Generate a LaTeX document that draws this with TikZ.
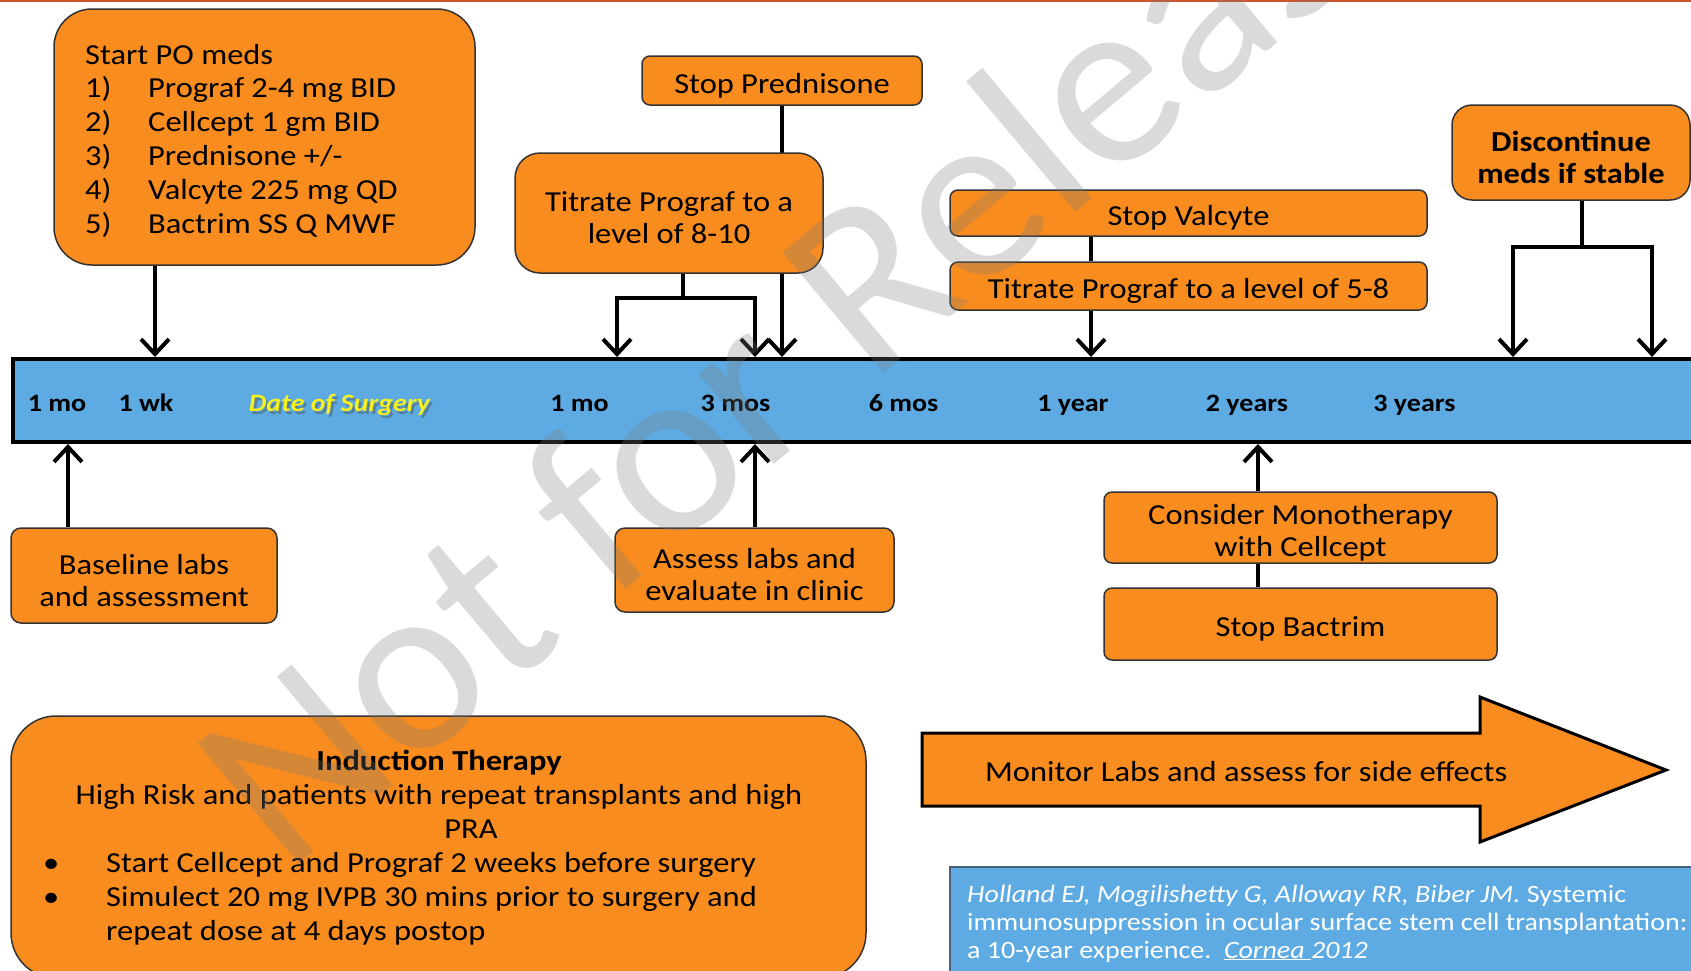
\documentclass[tikz,border=0pt]{standalone}
\usepackage{fontspec}
\setmainfont{Carlito}[FakeStretch=1.12]
\newfontfamily\wmfont{Carlito}
\usetikzlibrary{arrows.meta}
\definecolor{org}{RGB}{248,140,30}
\definecolor{barblue}{RGB}{93,171,226}
\definecolor{topline}{RGB}{205,85,45}
\definecolor{wmgray}{RGB}{124,124,124}
\definecolor{citeedge}{RGB}{75,95,125}
\definecolor{dosyellow}{RGB}{245,240,30}
\newcommand{\boxfont}{\fontsize{29}{34}\selectfont}
\newcommand{\bxfont}{\fontsize{29}{32}\selectfont}
\newcommand{\tlfont}{\fontsize{25}{30}\selectfont\bfseries}
\newcommand{\citefont}{\fontsize{25}{28}\selectfont}
\newcommand{\bst}{\rule{0pt}{30pt}}
\begin{document}
\begin{tikzpicture}[x=1pt,y=-1pt,
  box/.style={draw=black!80, line width=1.5pt, fill=org, align=center, inner sep=0pt, font=\bxfont},
  txt/.style={inner sep=0pt, font=\boxfont},
  tl/.style={inner sep=0pt, font=\tlfont, anchor=base},
  arr/.style={line width=4pt, -{Straight Barb[length=15pt,width=28pt]}},
  ln/.style={line width=4pt}]
\clip (0,0) rectangle (1691,970);
\fill[white] (0,0) rectangle (1691,970);
\draw[topline, line width=3pt] (0,0) -- (1691,0);

% x positions of connectors
\coordinate (xa) at (155,0);
\coordinate (x617) at (617,0);
\coordinate (x755) at (755,0);
\coordinate (x1091) at (1091,0);
\coordinate (x1513) at (1513,0);
\coordinate (x1652) at (1652,0);
\coordinate (x68) at (68,0);
\coordinate (x1258) at (1258,0);
\coordinate (j1) at (683,298);
\coordinate (j2) at (1582,247);

% timeline bar
\node[draw=black, line width=4pt, fill=barblue, minimum width=1720pt, minimum height=83pt, inner sep=0pt, anchor=west] (bar) at (11,400.5) {};
\node[tl] (t1) at (57,411) {1 mo};
\node[tl] (t2) at (146,411) {1 wk};
\node[tl, text=black!70, opacity=0.45] (dosshadow) at (342,414) {\itshape Date of Surgery};
\node[tl, text=dosyellow] (dos) at (339.5,411) {\itshape Date of Surgery};
\node[tl] (t3) at (579.5,411) {1 mo};
\node[tl] (t4) at (735.5,411) {3 mos};
\node[tl] (t5) at (903.5,411) {6 mos};
\node[tl] (t6) at (1073,411) {1 year};
\node[tl] (t7) at (1247,411) {2 years};
\node[tl] (t8) at (1414.5,411) {3 years};

% Start PO meds
\node[box, rounded corners=38pt, minimum width=421pt, minimum height=256pt] (startpo) at (264.5,137) {};
\node[txt, anchor=base west] (po0) at (85,64) {Start PO meds};
\node[txt, anchor=base west] (n1) at (85,97.8) {1)};
\node[txt, anchor=base west] (m1) at (148,97.8) {Prograf 2-4 mg BID};
\node[txt, anchor=base west] (n2) at (85,131.6) {2)};
\node[txt, anchor=base west] (m2) at (148,131.6) {Cellcept 1 gm BID};
\node[txt, anchor=base west] (n3) at (85,165.4) {3)};
\node[txt, anchor=base west] (m3) at (148,165.4) {Prednisone +/-};
\node[txt, anchor=base west] (n4) at (85,199.2) {4)};
\node[txt, anchor=base west] (m4) at (148,199.2) {Valcyte 225 mg QD};
\node[txt, anchor=base west] (n5) at (85,233) {5)};
\node[txt, anchor=base west] (m5) at (148,233) {Bactrim SS Q MWF};
\draw[arr] (startpo.south -| xa) -- (bar.north -| xa);

% Stop Prednisone and Titrate 8-10
\node[box, rounded corners=8pt, minimum width=280pt, minimum height=49pt] (stoppred) at (782,80.5) {\bst Stop Prednisone};
\draw[arr] (stoppred.south) -- (bar.north -| stoppred.south);
\node[box, rounded corners=25pt, minimum width=308pt, minimum height=120pt] (titr810) at (669,213) {\bst Titrate Prograf to a\\level of 8-10};
\draw[ln] (titr810.south -| j1) -- (j1);
\draw[arr] (j1) -| (bar.north -| x617);
\draw[arr] (j1) -| (bar.north -| x755);

% Stop Valcyte and Titrate 5-8
\node[box, rounded corners=8pt, minimum width=477pt, minimum height=46pt] (stopval) at (1188.5,213) {\bst Stop Valcyte};
\node[box, rounded corners=8pt, minimum width=477pt, minimum height=48pt] (titr58) at (1188.5,286) {\bst Titrate Prograf to a level of 5-8};
\draw[ln] (stopval.south -| x1091) -- (titr58.north -| x1091);
\draw[arr] (titr58.south -| x1091) -- (bar.north -| x1091);

% Discontinue
\node[box, rounded corners=20pt, minimum width=238pt, minimum height=95pt, font=\bxfont\bfseries] (discont) at (1571,152.5) {\bst Discontinue\\meds if stable};
\draw[ln] (discont.south -| j2) -- (j2);
\draw[arr] (j2) -| (bar.north -| x1513);
\draw[arr] (j2) -| (bar.north -| x1652);

% lower boxes
\node[box, rounded corners=10pt, minimum width=266pt, minimum height=95pt] (baseline) at (144,575.5) {\bst Baseline labs\\and assessment};
\draw[arr] (baseline.north -| x68) -- (bar.south -| x68);
\node[box, rounded corners=10pt, minimum width=279pt, minimum height=84pt] (assess) at (754.5,570) {\bst Assess labs and\\evaluate in clinic};
\draw[arr] (assess.north -| x755) -- (bar.south -| x755);
\node[box, rounded corners=8pt, minimum width=393pt, minimum height=71pt] (consider) at (1300.5,527.5) {\bst Consider Monotherapy\\with Cellcept};
\node[box, rounded corners=8pt, minimum width=393pt, minimum height=72pt] (bactrim) at (1300.5,624) {\bst Stop Bactrim};
\draw[arr] (consider.north -| x1258) -- (bar.south -| x1258);
\draw[ln] (bactrim.north -| x1258) -- (consider.south -| x1258);

% Induction therapy
\node[box, rounded corners=45pt, minimum width=855pt, minimum height=262pt] (induct) at (438.5,847) {};
\node[txt, anchor=base] (indt) at (439,770) {\bfseries Induction Therapy};
\node[txt, anchor=base] (indh) at (439,804) {High Risk and patients with repeat transplants and high};
\node[txt, anchor=base] (indp) at (471,838) {PRA};
\node[txt, anchor=base west] (bul1) at (43,872) {•};
\node[txt, anchor=base west] (ind1) at (106,872) {Start Cellcept and Prograf 2 weeks before surgery};
\node[txt, anchor=base west] (bul2) at (43,906) {•};
\node[txt, anchor=base west] (ind2) at (106,906) {Simulect 20 mg IVPB 30 mins prior to surgery and};
\node[txt, anchor=base west] (ind3) at (106,940) {repeat dose at 4 days postop};

% Monitor arrow
\draw[fill=org, line width=3pt, line join=miter] (922,733) -- (1480,733) -- (1480,697) -- (1666,770) -- (1480,842) -- (1480,806) -- (922,806) -- cycle;
\node[txt, anchor=base west] (monitor) at (985,781) {Monitor Labs and assess for side effects};

% citation
\node[draw=citeedge, line width=2pt, fill=barblue, minimum width=780pt, minimum height=130pt, inner sep=0pt, anchor=north west] (cite) at (949,866) {};
\node[inner sep=0pt, anchor=base west, font=\citefont, text=white] (c1) at (967,902) {\textit{Holland EJ, Mogilishetty G, Alloway RR, Biber JM.} Systemic};
\node[inner sep=0pt, anchor=base west, font=\citefont, text=white] (c2) at (967,930) {immunosuppression in ocular surface stem cell transplantation:};
\node[inner sep=0pt, anchor=base west, font=\citefont, text=white] (c3) at (967,958) {a 10-year experience.\ \ \textit{\underline{Cornea\ }2012}};

% watermark
\node[rotate=40, anchor=base west, inner sep=0pt, font=\wmfont\fontsize{245}{245}\selectfont, text=wmgray, text opacity=0.28] (wmark) at (285,876) {Not for Release};
\end{tikzpicture}
\end{document}
